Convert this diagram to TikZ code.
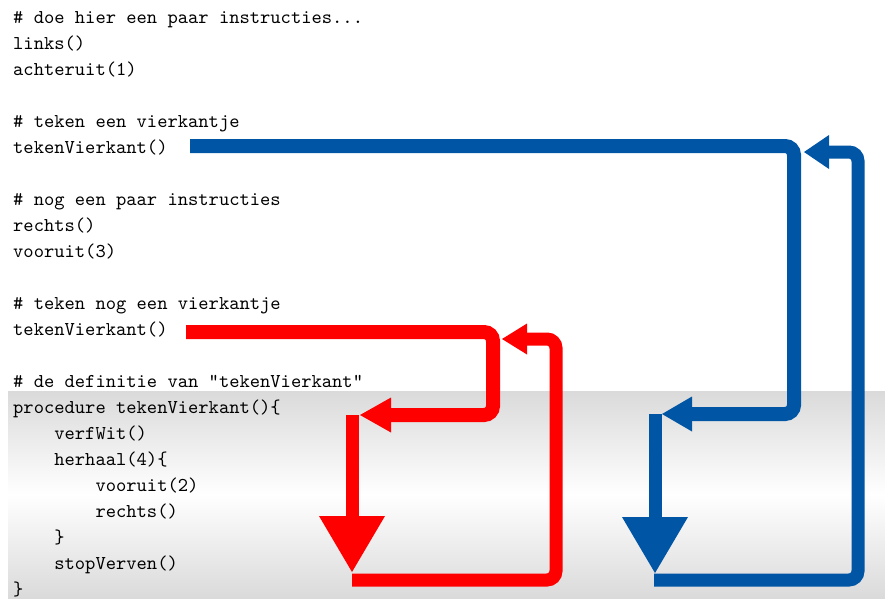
\documentclass[tikz,border=0pt]{standalone}
\usetikzlibrary{arrows.meta}
\definecolor{flowblue}{RGB}{0,85,165}
\definecolor{flowred}{RGB}{255,0,0}
\definecolor{panelgray}{RGB}{218,218,218}
\font\codefont="[lmmono10-regular.otf]" at 19.6pt
\tikzset{
  codeline/.style={anchor=base west, inner sep=0pt, font=\codefont},
  flow/.style={line width=14pt, rounded corners=9pt, line cap=butt},
  flowthin/.style={line width=13pt, rounded corners=9pt, line cap=butt},
  smallhead/.style={-{Triangle[length=#1,width=35pt,line width=0pt]}},
  bighead/.style={-{Triangle[length=56pt,width=66pt,line width=0pt]}},
}
\begin{document}
\begin{tikzpicture}[x=1pt,y=-1pt]
  \useasboundingbox (0,0) rectangle (885,598);
  % shaded panel behind the procedure definition
  \shade[top color=panelgray, bottom color=panelgray, middle color=white]
    (8,391) rectangle (885,598);

  % program text
  \def\cw{10.29}
  \node[codeline] (t1)  at (13, 23) {\# doe hier een paar instructies...};
  \node[codeline] (t2)  at (13, 49) {links()};
  \node[codeline] (t3)  at (13, 75) {achteruit(1)};
  \node[codeline] (t5)  at (13,127) {\# teken een vierkantje};
  \node[codeline] (t6)  at (13,153) {tekenVierkant()};
  \node[codeline] (t8)  at (13,205) {\# nog een paar instructies};
  \node[codeline] (t9)  at (13,231) {rechts()};
  \node[codeline] (t10) at (13,257) {vooruit(3)};
  \node[codeline] (t12) at (13,309) {\# teken nog een vierkantje};
  \node[codeline] (t13) at (13,335) {tekenVierkant()};
  \node[codeline] (t15) at (13,387) {\# de definitie van "tekenVierkant"};
  \node[codeline] (t16) at (13,413) {procedure tekenVierkant()\{};
  \node[codeline] (t17) at (13+4*\cw,439) {verfWit()};
  \node[codeline] (t18) at (13+4*\cw,465) {herhaal(4)\{};
  \node[codeline] (t19) at (13+8*\cw,491) {vooruit(2)};
  \node[codeline] (t20) at (13+8*\cw,517) {rechts()};
  \node[codeline] (t21) at (13+4*\cw,543) {\}};
  \node[codeline] (t22) at (13+4*\cw,569) {stopVerven()};
  \node[codeline] (t23) at (13,595) {\}};

  % blue route: first call of tekenVierkant
  \coordinate (b0) at (190,146);
  \coordinate (b1) at (794,146);
  \coordinate (b2) at (794,414);
  \coordinate (b3) at (662,414);
  \coordinate (b4) at (655,414);
  \coordinate (b5) at (655,573);
  \coordinate (b6) at (654,580);
  \coordinate (b7) at (858,580);
  \coordinate (b8) at (858,152);
  \coordinate (b9) at (804,152);
  \draw[flow, draw=flowblue, smallhead=30pt] (b0) -- (b1) -- (b2) -- (b3);
  \draw[flowthin, draw=flowblue, bighead] (b4) -- (b5);
  \draw[flowthin, draw=flowblue, -{Triangle[length=25pt,width=34pt,line width=0pt]}]
    (b6) -- (b7) -- (b8) -- (b9);

  % red route: second call of tekenVierkant
  \coordinate (r0) at (186,332);
  \coordinate (r1) at (493,332);
  \coordinate (r2) at (493,415);
  \coordinate (r3) at (360,415);
  \coordinate (r4) at (352,415);
  \coordinate (r5) at (352,572);
  \coordinate (r6) at (352,580);
  \coordinate (r7) at (556,580);
  \coordinate (r8) at (556,339);
  \coordinate (r9) at (502,339);
  \draw[flow, draw=flowred, smallhead=31pt] (r0) -- (r1) -- (r2) -- (r3);
  \draw[flowthin, draw=flowred, bighead] (r4) -- (r5);
  \draw[flowthin, draw=flowred, -{Triangle[length=25pt,width=31pt,line width=0pt]}]
    (r6) -- (r7) -- (r8) -- (r9);
\end{tikzpicture}
\end{document}
